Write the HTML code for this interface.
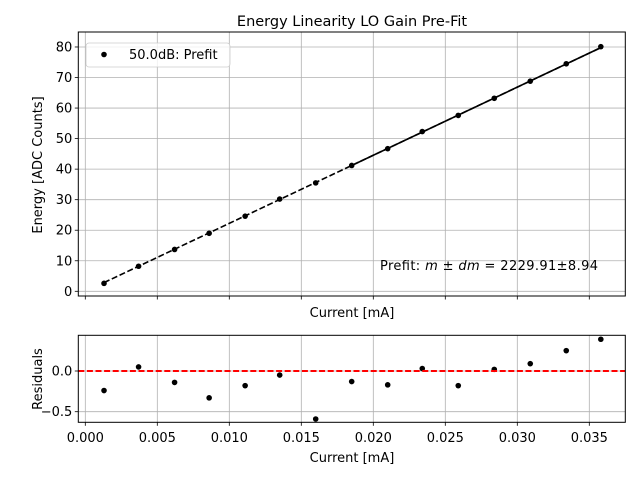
<!DOCTYPE html>
<html><head><meta charset="utf-8"><style>
body{margin:0;background:#fff;}
svg{display:block;font-family:"DejaVu Sans","Liberation Sans",sans-serif;}
</style></head><body>
<svg id="chart" width="640" height="480" xmlns="http://www.w3.org/2000/svg">
<g id="g"></g>
</svg>
<script>
const currents=[0.0013,0.0037,0.0062,0.0086,0.0111,0.0135,0.0160,0.0185,0.0210,0.0234,0.0259,0.0284,0.0309,0.0334,0.0358];
const energies=[2.6,8.2,13.7,19.0,24.6,30.2,35.5,41.2,46.7,52.3,57.6,63.2,68.8,74.5,80.1];
const residuals=[-0.24,0.05,-0.14,-0.33,-0.18,-0.05,-0.59,-0.13,-0.17,0.03,-0.18,0.02,0.09,0.25,0.39];
const fitSlope=2229.91;
const fitIntercept=-0.05;
const xTicks=[0,0.005,0.01,0.015,0.02,0.025,0.03,0.035];
const xTickLabels=["0.000","0.005","0.010","0.015","0.020","0.025","0.030","0.035"];
const yTicks=[0,10,20,30,40,50,60,70,80];
const rTicks=[0,-0.5];
const rTickLabels=["0.0","\u22120.5"];

const NS="http://www.w3.org/2000/svg";
const g=document.getElementById('g');
function el(t,a,txt){const e=document.createElementNS(NS,t);for(const k in a)e.setAttribute(k,a[k]);if(txt!=null)e.textContent=txt;g.appendChild(e);return e;}
const L=78.3,R=625.3,T1=32,B1=296,T2=335.3,B2=422.3;
const xs=v=>85.3+v*14400;
const ys=v=>291.3-v*3.054;
const rs=v=>371-v*81.4;

for(const v of xTicks){
 let e=el('line',{x1:xs(v),x2:xs(v),y1:T1,y2:B1,stroke:'#b0b0b0','stroke-width':0.8});
 
 e=el('line',{x1:xs(v),x2:xs(v),y1:T2,y2:B2,stroke:'#b0b0b0','stroke-width':0.8});
 
 e=el('line',{x1:xs(v),x2:xs(v),y1:B1,y2:B1+3.5,stroke:'#000','stroke-width':0.8});
 
 e=el('line',{x1:xs(v),x2:xs(v),y1:B2,y2:B2+3.5,stroke:'#000','stroke-width':0.8});
 
}
xTicks.forEach((v,i)=>{const e=el('text',{x:xs(v),y:442,'font-size':13,'text-anchor':'middle'},xTickLabels[i]);
 });
for(const v of yTicks){
 let e=el('line',{x1:L,x2:R,y1:ys(v),y2:ys(v),stroke:'#b0b0b0','stroke-width':0.8});
 
 e=el('line',{x1:L-3.5,x2:L,y1:ys(v),y2:ys(v),stroke:'#000','stroke-width':0.8});
 
 e=el('text',{x:L-6,y:ys(v)+4.5,'font-size':13,'text-anchor':'end'},String(v));
 
}
rTicks.forEach((v,i)=>{
 let e=el('line',{x1:L,x2:R,y1:rs(v),y2:rs(v),stroke:'#b0b0b0','stroke-width':0.8});
 
 e=el('line',{x1:L-3.5,x2:L,y1:rs(v),y2:rs(v),stroke:'#000','stroke-width':0.8});
 
 e=el('text',{x:L-6,y:rs(v)+4.5,'font-size':13,'text-anchor':'end'},rTickLabels[i]);
 
});
const x0=currents[0],xn=currents[currents.length-1];
let fl=el('line',{x1:xs(x0),y1:ys(fitSlope*x0+fitIntercept),x2:xs(xn),y2:ys(fitSlope*xn+fitIntercept),stroke:'#000','stroke-width':1.6,'stroke-dasharray':'6 2.6'});

const xm=currents[7];
fl=el('line',{x1:xs(xm),y1:ys(fitSlope*xm+fitIntercept),x2:xs(xn),y2:ys(fitSlope*xn+fitIntercept),stroke:'#000','stroke-width':1.6});

currents.forEach((c,i)=>{
 let e=el('circle',{cx:xs(c),cy:ys(energies[i]),r:2.8,fill:'#000'});
 
 e=el('circle',{cx:xs(c),cy:rs(residuals[i]),r:2.8,fill:'#000'});
 
});
let z=el('line',{x1:L,x2:R,y1:rs(0),y2:rs(0),stroke:'#ff0000','stroke-width':2,'stroke-dasharray':'6 2.6'});

let f=el('rect',{x:L,y:T1,width:R-L,height:B1-T1,fill:'none',stroke:'#000','stroke-width':1});

f=el('rect',{x:L,y:T2,width:R-L,height:B2-T2,fill:'none',stroke:'#000','stroke-width':1});

let lg=el('rect',{x:86,y:43,width:144,height:24,rx:3,fill:'#fff','fill-opacity':0.8,stroke:'#ccc','stroke-width':0.8});

lg=el('circle',{cx:104,cy:54.5,r:2.8,fill:'#000'});

lg=el('text',{x:129,y:59,'font-size':13},'50.0dB: Prefit');

let t=el('text',{x:352,y:26,'font-size':14.5,'text-anchor':'middle'},'Energy Linearity LO Gain Pre-Fit');

t=el('text',{x:352,y:317,'font-size':13,'text-anchor':'middle'},'Current [mA]');

t=el('text',{x:352,y:462,'font-size':13,'text-anchor':'middle'},'Current [mA]');

t=el('text',{x:0,y:0,'font-size':13,'text-anchor':'middle',transform:'translate(42,165) rotate(-90)'},'Energy [ADC Counts]');

t=el('text',{x:0,y:0,'font-size':13,'text-anchor':'middle',transform:'translate(42,379) rotate(-90)'},'Residuals');

t=el('text',{x:380,y:270,'font-size':13,textLength:218,lengthAdjust:'spacing'},'');

t.innerHTML='Prefit: <tspan font-style="italic">m</tspan> ± <tspan font-style="italic">dm</tspan> = 2229.91±8.94';
</script>
</body></html>
